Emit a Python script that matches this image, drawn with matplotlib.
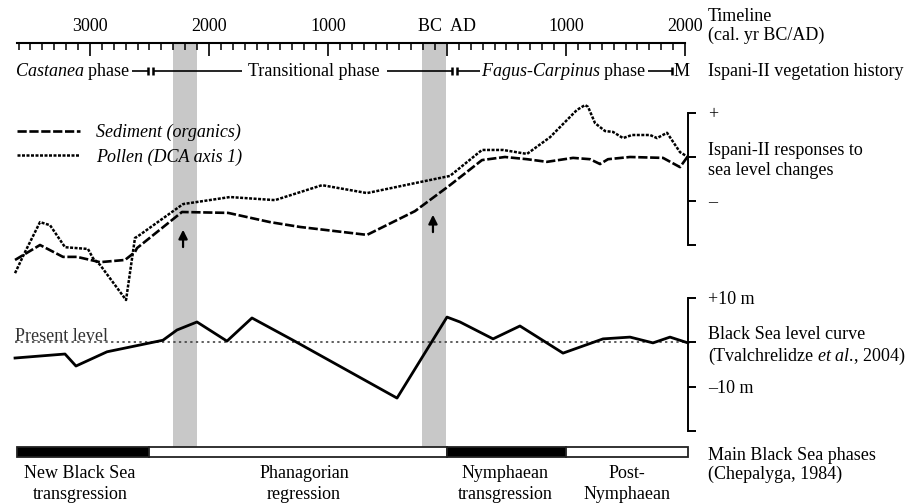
import matplotlib.pyplot as plt
import numpy as np

plt.rcParams['font.family'] = ['Liberation Serif', 'DejaVu Serif']
plt.rcParams['font.size'] = 13
plt.rcParams['mathtext.fontset'] = 'custom'
plt.rcParams['mathtext.rm'] = 'Liberation Serif'
plt.rcParams['mathtext.it'] = 'Liberation Serif:italic'

# ---- data, years in cal. yr BC/AD (BC negative) ----
pollen_years = [-3630, -3546, -3420, -3336, -3210, -3017, -2975, -2916, -2697, -2622, -2597,
                -2218, -1824, -1445, -1050, -672, -227, 25, 294, 471, 672, 866, 1092, 1160,
                1185, 1244, 1328, 1395, 1479, 1555, 1706, 1765, 1849, 1958, 2025]
pollen_score = [-2.64, -2.16, -1.48, -1.55, -2.05, -2.09, -2.30, -2.45, -3.25, -1.84, -1.80,
                -1.07, -0.91, -0.98, -0.64, -0.82, -0.57, -0.43, 0.16, 0.16, 0.07, 0.45, 1.07, 1.18,
                1.14, 0.77, 0.59, 0.57, 0.43, 0.50, 0.50, 0.43, 0.55, 0.11, 0.0]

sediment_years = [-3630, -3420, -3227, -3109, -2916, -2706, -2622, -2605, -2227, -1840, -1487,
                  -1235, -672, -269, 25, 294, 487, 672, 840, 1059, 1202, 1286, 1353, 1538,
                  1815, 1958, 2025]
sediment_score = [-2.34, -2.0, -2.27, -2.27, -2.39, -2.34, -2.16, -2.07, -1.25, -1.27, -1.48,
                  -1.59, -1.77, -1.23, -0.64, -0.07, 0.0, -0.05, -0.11, -0.02, -0.05, -0.16, -0.05, 0.0,
                  -0.02, -0.23, 0.02]

sea_years = [-3630, -3210, -3118, -2857, -2387, -2269, -2101, -1849, -1639, -1294, -420,
             0, 109, 387, 613, 975, 1311, 1538, 1731, 1874, 2025]
sea_level_m = [-3.6, -2.7, -5.4, -2.2, 0.4, 2.7, 4.5, 0.2, 5.4, 0.4, -12.6,
               5.6, 4.5, 0.7, 3.6, -2.5, 0.7, 1.1, -0.2, 1.1, -0.2]

rise_bands = [(-2300, -2100), (-210, -10)]
arrow_years = [-2218, -118]
arrow_base = [-2.11, -1.77]
arrow_tip = [-1.59, -1.25]

timeline_ticks = [-3000, -2000, -1000, 0, 1000, 2000]
timeline_labels = ['3000', '2000', '1000', 'BC  AD', '1000', '2000']

veg_bounds = [-2492, 63, 1891]

phase_starts = [-3613, -2500, 0, 1000]
phase_ends = [-2500, 0, 1000, 2025]
phase_dark = [True, False, True, False]
phase_names = ['New Black Sea\ntransgression', 'Phanagorian\nregression',
               'Nymphaean\ntransgression', 'Post-\nNymphaean']
phase_centers = [-3084, -1202, 487, 1513]

# ---- layout: pixel mapping of the original figure ----
W, H = 914, 504
X0, PX_PER_YR = 447, 0.119
XLIM = (-X0 / PX_PER_YR, (W - X0) / PX_PER_YR)
RIGHT = 2025      # year position of the bracket axes
TXT_X = 708 / W   # right-hand captions


def rows(top, bottom):
    return [0, 1 - bottom / H, 1, (bottom - top) / H]


def bare(ax):
    ax.set_xlim(XLIM)
    ax.set_facecolor('none')
    for s in ax.spines.values():
        s.set_visible(False)
    ax.set_xticks([])
    ax.set_yticks([])


fig = plt.figure(figsize=(W / 100, H / 100), dpi=100)

# background: grey bands, vegetation row, phase bar
ax_bg = fig.add_axes([0, 0, 1, 1])
bare(ax_bg)
ax_bg.set_ylim(H, 0)
for a, b in rise_bands:
    ax_bg.axvspan(a, b, ymin=1 - 447 / H, ymax=1 - 43 / H, color='#c8c8c8', lw=0, zorder=0)

# vegetation history row
row_y = 71
ax_bg.text(-3630, row_y, r'$\it{Castanea}$ phase', ha='left', va='center')
ax_bg.text(-1118, row_y, 'Transitional phase', ha='center', va='center')
ax_bg.text(983, row_y, r'$\it{Fagus}$-$\it{Carpinus}$ phase', ha='center', va='center')
ax_bg.text(1905, row_y, 'M', ha='left', va='center')
segs = [(-2647, veg_bounds[0] - 22), (veg_bounds[0] + 22, -1723), (-504, veg_bounds[1] - 22),
        (veg_bounds[1] + 22, 277), (1689, veg_bounds[2])]
for a, b in segs:
    ax_bg.hlines(row_y, a, b, color='k', lw=1.2)
for v in veg_bounds[:2]:
    ax_bg.vlines([v - 22, v + 22], row_y - 4, row_y + 4, color='k', lw=1.8)
ax_bg.vlines(veg_bounds[2], row_y - 4, row_y + 4, color='k', lw=1.8)

# main Black Sea phases bar
ax_bg.barh(452, np.subtract(phase_ends, phase_starts), left=phase_starts, height=10,
           color=['k' if d else 'white' for d in phase_dark], edgecolor='#222', lw=1.3, zorder=3)
for xc, name in zip(phase_centers, phase_names):
    ax_bg.text(xc, 484, name, ha='center', va='center', linespacing=1.3)

# timeline axis
ax_time = fig.add_axes(rows(43, 60))
ax_time.set_xlim(XLIM)
ax_time.set_facecolor('none')
for s in ['left', 'right', 'bottom']:
    ax_time.spines[s].set_visible(False)
ax_time.spines['top'].set_bounds(-3613, 2000)
ax_time.spines['top'].set_linewidth(1.5)
ax_time.xaxis.tick_top()
ax_time.set_xticks(timeline_ticks)
ax_time.set_xticklabels(timeline_labels)
ax_time.set_xticks(np.arange(-3600, 2001, 100), minor=True)
ax_time.tick_params(axis='x', which='major', direction='in', length=9, width=1.2, pad=6)
ax_time.tick_params(axis='x', which='minor', direction='in', length=5, width=1.1)
ax_time.set_yticks([])

# Ispani-II responses panel
ax_resp = fig.add_axes(rows(80, 320))
ax_resp.set_xlim(XLIM)
ax_resp.set_ylim(-(320 - 157) / 44, (157 - 80) / 44)
ax_resp.set_facecolor('none')
for s in ['left', 'top', 'bottom']:
    ax_resp.spines[s].set_visible(False)
ax_resp.spines['right'].set_position(('data', RIGHT))
ax_resp.spines['right'].set_bounds(-2, 1)
ax_resp.spines['right'].set_linewidth(1.4)
ax_resp.set_xticks([])
ax_resp.yaxis.tick_right()
ax_resp.set_yticks([1, 0, -1, -2])
ax_resp.set_yticklabels(['+', 'Ispani-II responses to\nsea level changes', '\u2013', ''])
ax_resp.tick_params(axis='y', direction='out', length=6, width=1.4, pad=8.5)

l_sed, = ax_resp.plot(sediment_years, sediment_score, color='k', lw=1.9,
                      linestyle=(0, (3.5, 1.0)), label='Sediment (organics)')
l_pol, = ax_resp.plot(pollen_years, pollen_score, color='k', lw=1.8,
                      linestyle=(0, (1.2, 0.6)), label='Pollen (DCA axis 1)')
for xa, y0, y1 in zip(arrow_years, arrow_base, arrow_tip):
    ax_resp.annotate('', xy=(xa, y1), xytext=(xa, y0),
                     arrowprops=dict(arrowstyle='-|>', color='k', lw=1.6, mutation_scale=13))
ax_resp.legend(handles=[l_sed, l_pol], loc='upper left', bbox_to_anchor=(17 / W, 1 - 124 / H),
               bbox_transform=fig.transFigure, frameon=False, borderpad=0, borderaxespad=0,
               handlelength=3.5, handletextpad=0.89, labelspacing=0.39,
               prop={'style': 'italic', 'size': 13})

# Black Sea level panel
ax_sea = fig.add_axes(rows(280, 445))
ax_sea.set_xlim(XLIM)
ax_sea.set_ylim((342 - 445) / 4.45, (342 - 280) / 4.45)
ax_sea.set_facecolor('none')
for s in ['left', 'top', 'bottom']:
    ax_sea.spines[s].set_visible(False)
ax_sea.spines['right'].set_position(('data', RIGHT))
ax_sea.spines['right'].set_bounds(-20, 10)
ax_sea.spines['right'].set_linewidth(1.4)
ax_sea.set_xticks([])
ax_sea.yaxis.tick_right()
ax_sea.set_yticks([10, 0, -10, -20])
ax_sea.set_yticklabels(['+10 m', 'Black Sea level curve\n(Tvalchrelidze $\\it{et\\ al}$., 2004)',
                        '\u201310 m', ''])
ax_sea.tick_params(axis='y', direction='out', length=6, width=1.4, pad=8.5)
ax_sea.hlines(0, -3630, RIGHT, color='#333', lw=1.1, linestyles=(0, (1.5, 2.2)))
ax_sea.text(-3630, 0.3, 'Present level', ha='left', va='baseline', color='#333')
ax_sea.plot(sea_years, sea_level_m, color='k', lw=2.0)

# right-hand captions
fig.text(TXT_X, 1 - 26 / H, 'Timeline\n(cal. yr BC/AD)', va='center', linespacing=1.2)
fig.text(TXT_X, 1 - row_y / H, 'Ispani-II vegetation history', va='center')
fig.text(TXT_X, 1 - 465 / H, 'Main Black Sea phases\n(Chepalyga, 1984)', va='center',
         linespacing=1.1)

fig.savefig('out.png', dpi=100)
